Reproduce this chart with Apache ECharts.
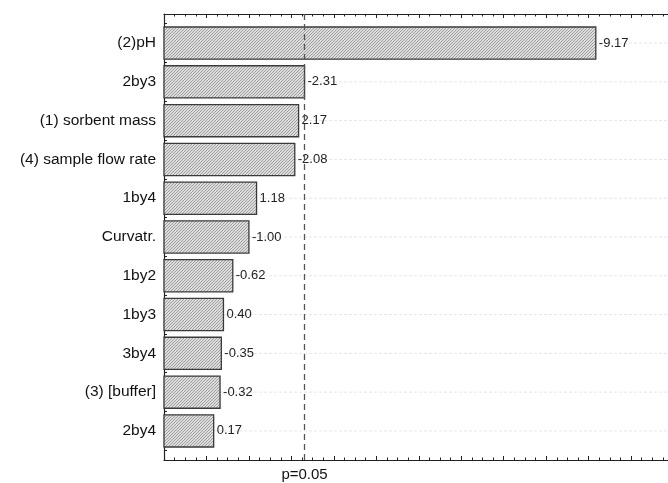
<!DOCTYPE html>
<html>
<head>
<meta charset="utf-8">
<script src="https://cdn.jsdelivr.net/npm/echarts@6/dist/echarts.min.js"></script>
<style>
html,body{margin:0;padding:0;background:#fff;}
#chart{width:668px;height:483px;}
</style>
</head>
<body>
<div id="chart"></div>
<script>
// Effect names (top to bottom) and standardized effect estimates
const categories = ['(2)pH', '2by3', '(1) sorbent mass', '(4) sample flow rate', '1by4', 'Curvatr.', '1by2', '1by3', '3by4', '(3) [buffer]', '2by4'];
const effects = [-9.17, -2.31, 2.17, -2.08, 1.18, -1.00, -0.62, 0.40, -0.35, -0.32, 0.17];
const pCritical = 2.306;
const pLabel = 'p=0.05';
const xMin = -1;
const xMax = 10.87;

// hatch pattern
const pc = document.createElement('canvas');
pc.width = 3; pc.height = 3;
const g = pc.getContext('2d');
g.fillStyle = '#dedede';
g.fillRect(0, 0, 3, 3);
g.strokeStyle = '#8c8c8c';
g.lineWidth = 0.8;
g.beginPath();
g.moveTo(0, 3); g.lineTo(3, 0);
g.moveTo(-1, 1); g.lineTo(1, -1);
g.moveTo(2, 4); g.lineTo(4, 2);
g.stroke();

const chart = echarts.init(document.getElementById('chart'), null, {renderer: 'canvas'});
const data = effects.map((v, i) => [Math.abs(v), i, v]);
const FONT = 'Liberation Sans, Arial, sans-serif';

chart.setOption({
  animation: false,
  grid: {left: 164, top: 14, right: 0, bottom: 23, containLabel: false},
  xAxis: [{
    type: 'value', position: 'bottom', min: xMin, max: xMax, interval: 1,
    axisLine: {show: true, onZero: false, lineStyle: {color: '#222', width: 1.2}},
    axisTick: {show: true, inside: true, length: 4, lineStyle: {color: '#222'}},
    minorTick: {show: true, splitNumber: 4, length: 2.5, lineStyle: {color: '#222'}},
    axisLabel: {show: false},
    splitLine: {show: false}
  }, {
    type: 'value', position: 'top', min: xMin, max: xMax, interval: 1,
    axisLine: {show: true, onZero: false, lineStyle: {color: '#222', width: 1.2}},
    axisTick: {show: true, inside: true, length: 4, lineStyle: {color: '#222'}},
    minorTick: {show: true, splitNumber: 4, length: 2.5, lineStyle: {color: '#222'}},
    axisLabel: {show: false},
    splitLine: {show: false}
  }],
  yAxis: {
    type: 'value', inverse: true, min: -0.75, max: 10.75, interval: 0.25,
    axisLine: {show: true, onZero: false, lineStyle: {color: '#222', width: 1.2}},
    axisTick: {show: true, inside: true, length: 3, lineStyle: {color: '#222'}},
    axisLabel: {
      show: true, margin: 8, color: '#111', fontSize: 15.5, fontFamily: FONT,
      formatter: function (v) {
        if (Math.abs(v - Math.round(v)) < 1e-6) {
          const k = Math.round(v);
          if (k >= 0 && k < categories.length) return categories[k];
        }
        return '';
      }
    },
    splitLine: {show: false}
  },
  series: [{
    type: 'custom',
    xAxisIndex: 0,
    data: data,
    renderItem: function (params, api) {
      const val = api.value(0);
      const idx = api.value(1);
      const raw = api.value(2);
      const start = api.coord([xMin, idx]);
      const end = api.coord([val, idx]);
      const right = api.coord([xMax, idx]);
      const h = api.size([0, 1])[1] * 0.83;
      return {
        type: 'group',
        children: [{
          type: 'line',
          shape: {x1: start[0], y1: start[1], x2: right[0], y2: right[1]},
          style: {stroke: '#e6e6e6', lineWidth: 1, lineDash: [3, 2]},
          z2: 0
        }, {
          type: 'rect',
          shape: {x: start[0], y: start[1] - h / 2, width: end[0] - start[0], height: h},
          style: {fill: {image: pc, repeat: 'repeat'}, stroke: '#3a3a3a', lineWidth: 1.3},
          z2: 2
        }, {
          type: 'text',
          x: end[0] + 3, y: end[1],
          style: {text: raw.toFixed(2), fill: '#222', fontSize: 13, fontFamily: FONT, align: 'left', verticalAlign: 'middle'},
          z2: 3
        }]
      };
    },
    markLine: {
      silent: true, symbol: 'none',
      lineStyle: {color: '#555', type: [6, 4], width: 1.3},
      label: {show: true, position: 'end', formatter: pLabel, color: '#111', fontSize: 15, fontFamily: FONT, distance: 7},
      data: [{xAxis: pCritical}]
    },
    z: 2
  }]
});
</script>
</body>
</html>
